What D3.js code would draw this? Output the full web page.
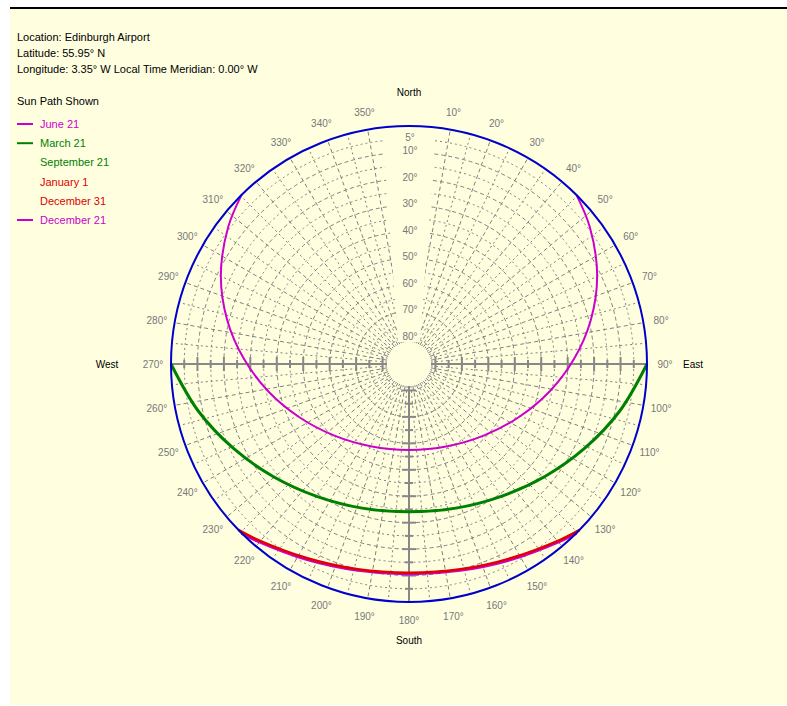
<!DOCTYPE html>
<html>
<head>
<meta charset="utf-8">
<script src="https://cdn.jsdelivr.net/npm/d3@7/dist/d3.min.js"></script>
<style>
  body { margin: 0; background: #fff; }
  text { font-family: "Liberation Sans", Arial, sans-serif; }
</style>
</head>
<body>
<svg id="chart"></svg>
<script>
const width = 787, height = 706;
const svg = d3.select("#chart").attr("width", width).attr("height", height);

// header + legend text
const headerLines = [
  "Location: Edinburgh Airport",
  "Latitude: 55.95° N",
  "Longitude: 3.35° W    Local Time Meridian: 0.00° W"
];
const legendTitle = "Sun Path Shown";
const legendNames = ["June 21", "March 21", "September 21", "January 1", "December 31", "December 21"];
const legendColors = ["#cc00cc", "#008000", "#008000", "#e00000", "#e00000", "#cc00cc"];
const legendHasLine = [true, true, false, false, false, true];

// sun paths: azimuth (deg from north) and altitude (deg)
const juneAz  = [44.7, 52.8, 64.7, 76.3, 88.3, 101.2, 115.9, 133.5, 155.0, 180, 205.0, 226.5, 244.1, 258.8, 271.7, 283.7, 295.3, 307.2, 315.3];
const juneAlt = [0, 4.2, 11.3, 19.2, 27.6, 35.9, 43.9, 50.8, 55.7, 57.5, 55.7, 50.8, 43.9, 35.9, 27.6, 19.2, 11.3, 4.2, 0];
const equinoxAz  = [90, 102.5, 115.6, 129.6, 145.1, 162.0, 180, 198.0, 214.9, 230.4, 244.4, 257.5, 270];
const equinoxAlt = [0, 8.3, 16.3, 23.3, 29.0, 32.7, 34.1, 32.7, 29.0, 23.3, 16.3, 8.3, 0];
const dec21Az  = [135.3, 139.5, 152.5, 166.1, 180, 193.9, 207.5, 220.5, 224.7];
const dec21Alt = [0, 1.9, 6.6, 9.6, 10.6, 9.6, 6.6, 1.9, 0];
const jan1Az  = [134.2, 139.3, 152.4, 166.0, 180, 194.0, 207.6, 220.7, 225.8];
const jan1Alt = [0, 2.3, 7.1, 10.0, 11.1, 10.0, 7.1, 2.3, 0];

// axis labels
const azLabels = [10, 20, 30, 40, 50, 60, 70, 80, 90, 100, 110, 120, 130, 140, 150, 160, 170, 180,
                  190, 200, 210, 220, 230, 240, 250, 260, 270, 280, 290, 300, 310, 320, 330, 340, 350];
const altLabels = [5, 10, 20, 30, 40, 50, 60, 70, 80];
const compassNames = ["North", "East", "South", "West"];
const compassAz = [0, 90, 180, 270];

// frame
svg.append("rect").attr("x", 0).attr("y", 0).attr("width", width).attr("height", height).attr("fill", "#fff");
svg.append("rect").attr("x", 10).attr("y", 8).attr("width", width - 10).attr("height", height - 9).attr("fill", "#ffffe0");
svg.append("line").attr("x1", 10).attr("x2", width).attr("y1", 8).attr("y2", 8)
  .attr("stroke", "#000").attr("stroke-width", 2);

const cx = 409, cy = 364, R = 238, hole = 22;
const rScale = d3.scaleLinear().domain([90, 0]).range([0, R]);
const rad = d => d * Math.PI / 180;
const px = (az, r) => cx + r * Math.sin(rad(az));
const py = (az, r) => cy - r * Math.cos(rad(az));

const g = svg.append("g");
const grid = g.append("g").attr("stroke", "#808080").attr("fill", "none");

// concentric altitude circles
d3.range(5, 85, 5).forEach(a => {
  grid.append("circle").attr("cx", cx).attr("cy", cy).attr("r", rScale(a))
    .attr("stroke-dasharray", a % 10 === 0 ? "4,3" : "2,3");
});
// radial azimuth lines
d3.range(0, 360, 5).forEach(az => {
  grid.append("line")
    .attr("x1", px(az, hole)).attr("y1", py(az, hole))
    .attr("x2", px(az, R)).attr("y2", py(az, R))
    .attr("stroke-dasharray", az % 10 === 0 ? "4,3" : "2,3");
});

// blank strip for the altitude labels + center hole
g.append("polygon")
  .attr("points", [[cx - 27, cy - R - 2], [cx + 27, cy - R - 2], [cx + 11, cy - hole], [cx - 11, cy - hole]].join(" "))
  .attr("fill", "#ffffe0");
g.append("circle").attr("cx", cx).attr("cy", cy).attr("r", hole).attr("fill", "#ffffe0");

// solid E, S, W axes with ticks
[90, 180, 270].forEach(az => {
  g.append("line")
    .attr("x1", px(az, hole)).attr("y1", py(az, hole))
    .attr("x2", px(az, R)).attr("y2", py(az, R))
    .attr("stroke", "#888").attr("stroke-width", 2);
  d3.range(5, 85, 5).forEach(a => {
    const r = rScale(a), t = a % 10 === 0 ? 7 : 4;
    const ox = t * Math.cos(rad(az)), oy = t * Math.sin(rad(az));
    g.append("line")
      .attr("x1", px(az, r) - ox).attr("y1", py(az, r) - oy)
      .attr("x2", px(az, r) + ox).attr("y2", py(az, r) + oy)
      .attr("stroke", "#888").attr("stroke-width", 2);
  });
});

// altitude labels along north
g.selectAll(".alt").data(altLabels).enter().append("text")
  .attr("x", cx + 1).attr("y", d => cy - rScale(d) + 2)
  .attr("text-anchor", "middle").attr("font-size", 10).attr("fill", "#777")
  .text(d => d + "°");

// azimuth labels
g.selectAll(".az").data(azLabels).enter().append("text")
  .attr("x", d => px(d, R + 18)).attr("y", d => py(d, R + 18) + 4)
  .attr("text-anchor", "middle").attr("font-size", 10).attr("fill", "#777")
  .text(d => d + "°");

// compass names
const compassR = [R + 34, R + 46, R + 38, R + 64];
compassNames.forEach((n, i) => {
  g.append("text")
    .attr("x", px(compassAz[i], compassR[i])).attr("y", py(compassAz[i], compassR[i]) + 4)
    .attr("text-anchor", "middle").attr("font-size", 10).attr("fill", "#000")
    .text(n);
});

// sun paths
const line = d3.lineRadial()
  .angle(d => rad(d[0]))
  .radius(d => rScale(d[1]))
  .curve(d3.curveCatmullRom);
const paths = [
  { az: dec21Az, alt: dec21Alt, color: "#cc00cc", w: 3 },
  { az: jan1Az, alt: jan1Alt, color: "#e00000", w: 2.5 },
  { az: equinoxAz, alt: equinoxAlt, color: "#008000", w: 3 },
  { az: juneAz, alt: juneAlt, color: "#cc00cc", w: 2 }
];
paths.forEach(p => {
  g.append("path")
    .attr("transform", `translate(${cx},${cy})`)
    .attr("d", line(p.az.map((a, i) => [a, p.alt[i]])))
    .attr("fill", "none").attr("stroke", p.color).attr("stroke-width", p.w);
});

// horizon circle
g.append("circle").attr("cx", cx).attr("cy", cy).attr("r", R)
  .attr("fill", "none").attr("stroke", "#0000cc").attr("stroke-width", 2);

// header
svg.selectAll(".hdr").data(headerLines).enter().append("text")
  .attr("x", 17).attr("y", (d, i) => 41 + i * 16)
  .attr("font-size", 11).attr("fill", "#000").text(d => d);

// legend
svg.append("text").attr("x", 17).attr("y", 105).attr("font-size", 11).attr("fill", "#000").text(legendTitle);
legendNames.forEach((n, i) => {
  const y = 124 + i * 19.2;
  if (legendHasLine[i]) {
    svg.append("line").attr("x1", 17).attr("x2", 33).attr("y1", y).attr("y2", y)
      .attr("stroke", legendColors[i]).attr("stroke-width", 2);
  }
  svg.append("text").attr("x", 40).attr("y", y + 4).attr("font-size", 11)
    .attr("fill", legendColors[i]).text(n);
});
</script>
</body>
</html>
